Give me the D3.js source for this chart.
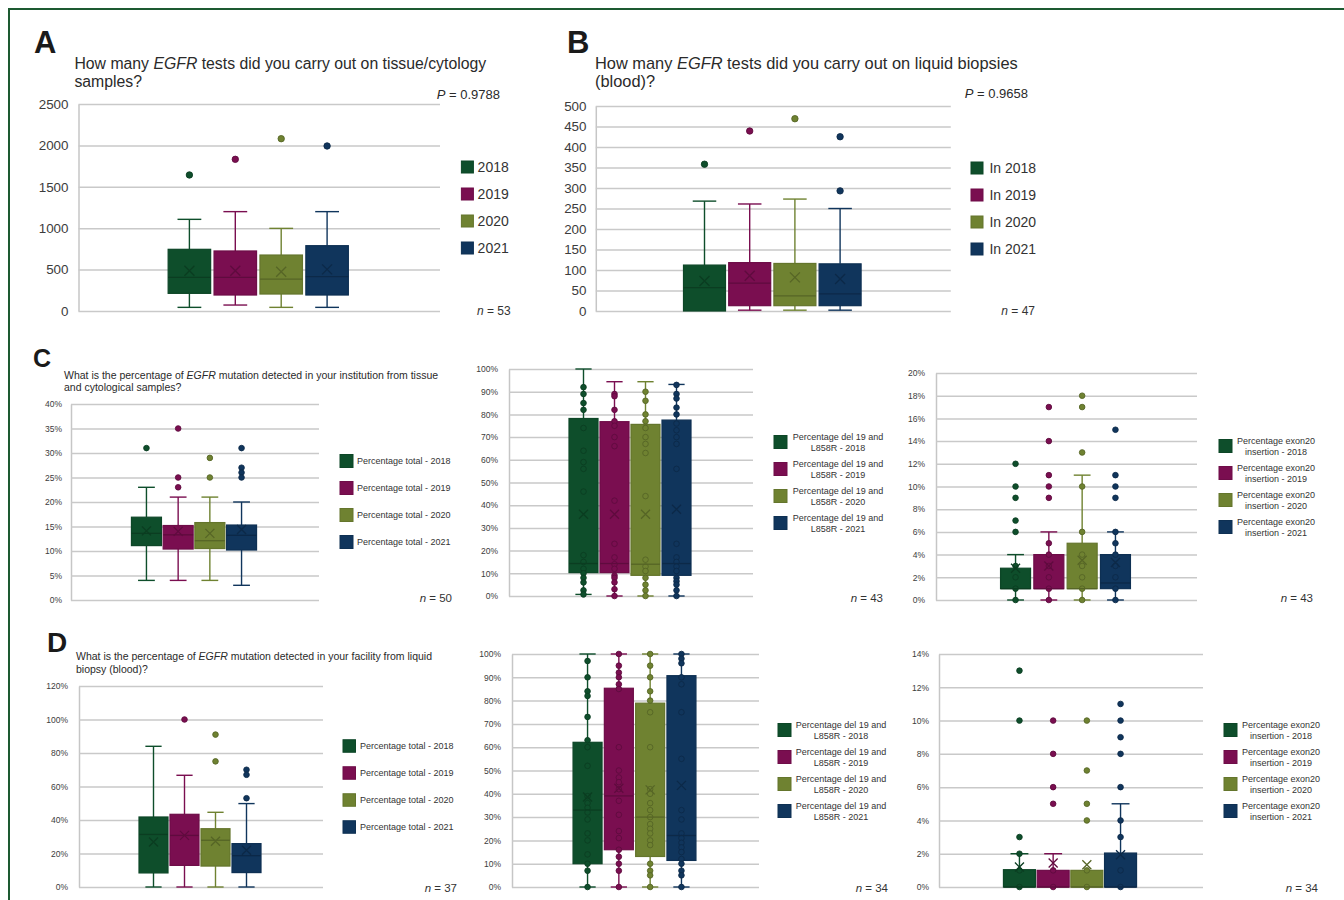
<!DOCTYPE html>
<html>
<head>
<meta charset="utf-8">
<script src="https://cdn.jsdelivr.net/npm/d3@7"></script>
<style>
  body { margin: 0; background: #fff; }
  text { font-family: "Liberation Sans", Arial, sans-serif; }
</style>
</head>
<body>
<div id="chart"></div>
<script>
const years = ["2018", "2019", "2020", "2021"];
const seriesColors = ["#0e4e2b", "#7a0e50", "#6f8231", "#10355c"];

// A - tissue/cytology tests
const aTicks = [0, 500, 1000, 1500, 2000, 2500];
const aLow = [44, 72, 44, 44];
const aQ1 = [213, 193, 205, 193];
const aMedian = [407, 407, 386, 415];
const aQ3 = [745, 725, 676, 789];
const aHigh = [1107, 1200, 998, 1200];
const aMean = [487, 487, 475, 503];
const aPoints = [[1643], [1832], [2081], [1993]];

// B - liquid biopsy tests
const bTicks = [0, 50, 100, 150, 200, 250, 300, 350, 400, 450, 500];
const bLow = [0, 2, 2, 2];
const bQ1 = [0, 13, 13, 13];
const bMedian = [57, 68, 37, 42];
const bQ3 = [112, 118, 116, 115];
const bHigh = [268, 261, 273, 250];
const bMean = [73, 86, 82, 78];
const bPoints = [[358], [439], [469], [425, 293]];

// C - tissue, total %
const c1Ticks = [0, 5, 10, 15, 20, 25, 30, 35, 40];
const c1Low = [4, 4, 4, 3];
const c1Q1 = [11.1, 10.4, 10.5, 10.2];
const c1Median = [13.6, 13.3, 12.1, 13.2];
const c1Q3 = [16.9, 15.2, 15.8, 15.3];
const c1High = [23, 21, 21, 20];
const c1Mean = [14.1, 14.0, 13.6, 14.4];
const c1Points = [[31], [35, 25, 23], [29, 25], [31, 27, 26, 25]];

// C - tissue, del 19 and L858R %
const c2Ticks = [0, 10, 20, 30, 40, 50, 60, 70, 80, 90, 100];
const c2Low = [0.7, 0, 0, 0];
const c2Q1 = [10.3, 10.3, 9.1, 9.1];
const c2Median = [14.3, 14.3, 14, 14.3];
const c2Q3 = [78.2, 76.8, 75.6, 77.5];
const c2High = [100, 94.4, 94.4, 93.2];
const c2Mean = [36, 36, 36, 38.2];
const c2Points = [
  [92, 89, 85, 82, 74, 64, 59, 56, 46, 18, 15, 12, 10, 8, 6, 2.5, 0.7],
  [89, 88, 82, 77, 75, 70, 66, 42, 23, 17, 14, 12, 9, 8, 6, 3, 0],
  [90, 86, 80, 77, 74, 70, 67, 63, 44, 16, 13, 11, 8, 5, 2.5, 0],
  [93, 89, 87, 83, 80, 76, 73, 70, 67, 56, 23, 17, 15, 13, 11, 8, 6.5, 5, 2.5, 0]
];

// C - tissue, exon20 insertion %
const c3Ticks = [0, 2, 4, 6, 8, 10, 12, 14, 16, 18, 20];
const c3Low = [0, 0, 0, 0];
const c3Q1 = [1, 1, 1, 1];
const c3Median = [1, 1, 1, 1.5];
const c3Q3 = [2.8, 4, 5, 4];
const c3High = [4, 6, 11, 6];
const c3Mean = [2.8, 3.0, 3.5, 3.3];
const c3Points = [
  [12, 10, 9, 7, 6, 3, 2, 1, 0],
  [17, 14, 11, 10, 9, 5, 4, 3, 2, 1, 0],
  [18, 17, 13, 10, 6, 4, 3, 2, 1, 0],
  [15, 11, 10, 9, 6, 5, 4, 3, 2, 1, 0]
];

// D - liquid biopsy, total %
const d1Ticks = [0, 20, 40, 60, 80, 100, 120];
const d1Low = [0, 0, 0, 0];
const d1Q1 = [8.4, 12.9, 12.5, 8.6];
const d1Median = [31.4, 30.8, 27.9, 18.7];
const d1Q3 = [41.8, 43.4, 34.8, 25.9];
const d1High = [84, 66.7, 44.6, 49.8];
const d1Mean = [26.9, 30.8, 27.3, 21.9];
const d1Points = [[], [100], [91, 75], [70, 67, 53]];

// D - liquid biopsy, del 19 and L858R %
const d2Ticks = [0, 10, 20, 30, 40, 50, 60, 70, 80, 90, 100];
const d2Low = [0, 0, 0, 0];
const d2Q1 = [10, 16, 13.1, 11.4];
const d2Median = [33, 39.1, 30, 22.1];
const d2Q3 = [62.1, 85.3, 78.9, 90.7];
const d2High = [100, 100, 100, 100];
const d2Mean = [38.6, 42.4, 41.7, 43.6];
const d2Points = [
  [97, 90, 84, 82, 73, 63, 60, 52, 39, 36, 34, 32, 29, 23, 20, 14, 10, 7, 0],
  [100, 95, 92, 90, 87, 85, 60, 50, 47, 45, 42, 37, 31, 24, 21, 16, 13, 10, 7, 0],
  [100, 95, 90, 84, 80, 75, 60, 42, 40, 36, 33, 30, 27, 25, 23, 20, 18, 10, 7, 5, 0],
  [100, 98, 96, 90, 87, 75, 55, 33, 29, 23, 21, 19, 17, 15, 12, 10, 7, 5, 0]
];

// D - liquid biopsy, exon20 insertion %
const d3Ticks = [0, 2, 4, 6, 8, 10, 12, 14];
const d3Low = [0, 0, 0, 0];
const d3Q1 = [0, 0, 0, 0];
const d3Median = [0, 0, 0, 0];
const d3Q3 = [1.04, 1, 1, 2.04];
const d3High = [2, 2, 1, 5];
const d3Mean = [1.2, 1.44, 1.34, 1.94];
const d3Points = [
  [13, 10, 3, 2, 1, 0],
  [10, 8, 6, 5, 1, 0],
  [10, 7, 5, 4, 1, 0],
  [11, 10, 9, 8, 6, 4, 3, 1, 0]
];

// legend labels
const aLegend = ["2018", "2019", "2020", "2021"];
const bLegend = ["In 2018", "In 2019", "In 2020", "In 2021"];
const totalLegend = ["Percentage total - 2018", "Percentage total - 2019", "Percentage total - 2020", "Percentage total - 2021"];
const delLegend = [["Percentage del 19 and", "L858R - 2018"], ["Percentage del 19 and", "L858R - 2019"],
                   ["Percentage del 19 and", "L858R - 2020"], ["Percentage del 19 and", "L858R - 2021"]];
const exonLegend = [["Percentage exon20", "insertion - 2018"], ["Percentage exon20", "insertion - 2019"],
                    ["Percentage exon20", "insertion - 2020"], ["Percentage exon20", "insertion - 2021"]];

const width = 1344, height = 900;
const svg = d3.select("#chart").append("svg")
  .attr("width", width)
  .attr("height", height);

// green frame
svg.append("path")
  .attr("d", `M9,${height} V9 H${width}`)
  .attr("fill", "none")
  .attr("stroke", "#1d5a31")
  .attr("stroke-width", 2);

function stats(low, q1, med, q3, high, mean, pts) {
  return years.map((y, i) => ({ year: y, i, low: low[i], q1: q1[i], med: med[i], q3: q3[i], high: high[i], mean: mean[i], pts: pts[i] }));
}

const pctFmt = d => d + "%";

const panels = [
  { data: stats(aLow, aQ1, aMedian, aQ3, aHigh, aMean, aPoints), ticks: aTicks, fmt: d3.format("d"),
    left: 78.5, right: 440, top: 104, bottom: 311, step: 45.9, boxW: 42.5, tickFont: 13.4, tickPad: 10, r: 3.2, xs: 5,
    legend: aLegend, lgX: 461.4, lgSize: 12, lgTextX: 477.6, lgFont: 14, lgRows: [167, 194, 221, 248],
    n: "53", nX: 510.7, nY: 315, nFont: 12 },
  { data: stats(bLow, bQ1, bMedian, bQ3, bHigh, bMean, bPoints), ticks: bTicks, fmt: d3.format("d"),
    left: 595.8, right: 950.8, top: 106, bottom: 311, step: 45.2, boxW: 42, tickFont: 13.4, tickPad: 9.3, r: 3.2, xs: 5,
    legend: bLegend, lgX: 971, lgSize: 12, lgTextX: 989.4, lgFont: 14, lgRows: [168, 195, 222, 249],
    n: "47", nX: 1035, nY: 315, nFont: 12 },
  { data: stats(c1Low, c1Q1, c1Median, c1Q3, c1High, c1Mean, c1Points), ticks: c1Ticks, fmt: pctFmt,
    left: 71, right: 319, top: 404, bottom: 600, step: 31.7, boxW: 30, tickFont: 8.5, tickPad: 9, r: 2.8, xs: 4.5,
    legend: totalLegend, lgX: 340, lgSize: 13, lgTextX: 357, lgFont: 9, lgRows: [461, 488, 515, 542],
    n: "50", nX: 452, nY: 602, nFont: 11.5 },
  { data: stats(c2Low, c2Q1, c2Median, c2Q3, c2High, c2Mean, c2Points), ticks: c2Ticks, fmt: pctFmt,
    left: 509, right: 753, top: 369, bottom: 596, step: 31, boxW: 29, tickFont: 8.5, tickPad: 11, r: 2.8, xs: 4.5,
    legend: delLegend, lgX: 774, lgSize: 13, lgTextX: 838, lgFont: 9, lgRows: [442, 469, 496, 523],
    n: "43", nX: 883, nY: 602, nFont: 11.5 },
  { data: stats(c3Low, c3Q1, c3Median, c3Q3, c3High, c3Mean, c3Points), ticks: c3Ticks, fmt: pctFmt,
    left: 936, right: 1197, top: 373, bottom: 600, step: 33.3, boxW: 30, tickFont: 8.5, tickPad: 11, r: 2.8, xs: 4.5,
    legend: exonLegend, lgX: 1219, lgSize: 13, lgTextX: 1276, lgFont: 9, lgRows: [446, 473, 500, 527],
    n: "43", nX: 1313, nY: 602, nFont: 11.5 },
  { data: stats(d1Low, d1Q1, d1Median, d1Q3, d1High, d1Mean, d1Points), ticks: d1Ticks, fmt: pctFmt,
    left: 79, right: 323, top: 686, bottom: 887, step: 31, boxW: 29, tickFont: 8.5, tickPad: 11, r: 2.8, xs: 4.5,
    legend: totalLegend, lgX: 343, lgSize: 12.5, lgTextX: 360, lgFont: 9, lgRows: [746, 773, 800, 827],
    n: "37", nX: 457, nY: 892, nFont: 11.5 },
  { data: stats(d2Low, d2Q1, d2Median, d2Q3, d2High, d2Mean, d2Points), ticks: d2Ticks, fmt: pctFmt,
    left: 512, right: 759, top: 654, bottom: 887, step: 31.3, boxW: 29, tickFont: 8.5, tickPad: 11, r: 2.8, xs: 4.5,
    legend: delLegend, lgX: 778, lgSize: 13, lgTextX: 841, lgFont: 9, lgRows: [730, 757, 784, 811],
    n: "34", nX: 888, nY: 892, nFont: 11.5 },
  { data: stats(d3Low, d3Q1, d3Median, d3Q3, d3High, d3Mean, d3Points), ticks: d3Ticks, fmt: pctFmt,
    left: 939, right: 1203, top: 654, bottom: 887, step: 33.7, boxW: 32, tickFont: 8.5, tickPad: 10, r: 2.8, xs: 4.5,
    legend: exonLegend, lgX: 1224, lgSize: 13, lgTextX: 1281, lgFont: 9, lgRows: [730, 757, 784, 811],
    n: "34", nX: 1318, nY: 892, nFont: 11.5 }
];

function drawPanel(p) {
  const g = svg.append("g");
  const y = d3.scaleLinear().domain([0, d3.max(p.ticks)]).range([p.bottom, p.top]);
  const cx = (p.left + p.right) / 2 - 1;
  const pad = 1 - p.boxW / p.step;
  const x = d3.scaleBand().domain(years)
    .range([cx - 2 * p.step, cx + 2 * p.step])
    .paddingInner(pad).paddingOuter(pad / 2);

  // axis with gridlines
  const axis = g.append("g")
    .attr("transform", `translate(${p.left},0)`)
    .call(d3.axisLeft(y).tickValues(p.ticks).tickFormat(p.fmt)
      .tickSize(-(p.right - p.left)).tickSizeOuter(0).tickPadding(p.tickPad));
  axis.select(".domain").attr("stroke", "#c6c6c6").attr("stroke-width", 1.5);
  axis.selectAll(".tick line").attr("stroke", "#c9c9c9").attr("stroke-width", 1.5);
  axis.selectAll(".tick text")
    .attr("fill", "#3c3c3c")
    .style("font-size", p.tickFont + "px")
    .style("font-family", "'Liberation Sans', Arial, sans-serif");

  const boxes = g.selectAll(".box").data(p.data).enter().append("g").attr("class", "box");
  const mid = d => x(d.year) + x.bandwidth() / 2;
  const capW = x.bandwidth() * 0.28;
  const col = d => seriesColors[d.i];
  const dark = d => d3.color(seriesColors[d.i]).darker(0.7);

  // whiskers
  boxes.filter(d => d.high > d.q3).append("line")
    .attr("x1", mid).attr("x2", mid)
    .attr("y1", d => y(d.q3)).attr("y2", d => y(d.high))
    .attr("stroke", col).attr("stroke-width", 1.4);
  boxes.filter(d => d.high > d.q3).append("line")
    .attr("x1", d => mid(d) - capW).attr("x2", d => mid(d) + capW)
    .attr("y1", d => y(d.high)).attr("y2", d => y(d.high))
    .attr("stroke", col).attr("stroke-width", 1.4);
  boxes.filter(d => d.low < d.q1).append("line")
    .attr("x1", mid).attr("x2", mid)
    .attr("y1", d => y(d.q1)).attr("y2", d => y(d.low))
    .attr("stroke", col).attr("stroke-width", 1.4);
  boxes.filter(d => d.low < d.q1).append("line")
    .attr("x1", d => mid(d) - capW).attr("x2", d => mid(d) + capW)
    .attr("y1", d => y(d.low)).attr("y2", d => y(d.low))
    .attr("stroke", col).attr("stroke-width", 1.4);

  // box
  boxes.append("rect")
    .attr("x", d => x(d.year))
    .attr("width", x.bandwidth())
    .attr("y", d => y(d.q3))
    .attr("height", d => y(d.q1) - y(d.q3))
    .attr("fill", col)
    .attr("stroke", d => d3.color(seriesColors[d.i]).darker(0.3))
    .attr("stroke-width", 1.2);

  // points
  boxes.selectAll("circle").data(d => d.pts.map(v => ({ v, i: d.i, year: d.year }))).enter()
    .append("circle")
    .attr("cx", mid)
    .attr("cy", d => y(d.v))
    .attr("r", p.r)
    .attr("fill", col)
    .attr("stroke", dark)
    .attr("stroke-width", 0.9);

  // median
  boxes.append("line")
    .attr("x1", d => x(d.year)).attr("x2", d => x(d.year) + x.bandwidth())
    .attr("y1", d => y(d.med)).attr("y2", d => y(d.med))
    .attr("stroke", dark).attr("stroke-width", 1.3);

  // mean marker
  boxes.append("path")
    .attr("d", d => {
      const cxm = mid(d), cym = y(d.mean), s = p.xs;
      return `M${cxm - s},${cym - s}L${cxm + s},${cym + s}M${cxm - s},${cym + s}L${cxm + s},${cym - s}`;
    })
    .attr("stroke", dark).attr("stroke-width", 1.3).attr("fill", "none");

  // legend
  const lg = g.selectAll(".lg").data(p.legend).enter().append("g")
    .attr("transform", (d, i) => `translate(0,${p.lgRows[i]})`);
  lg.append("rect")
    .attr("x", p.lgX).attr("y", -p.lgSize / 2)
    .attr("width", p.lgSize).attr("height", p.lgSize)
    .attr("fill", (d, i) => seriesColors[i])
    .attr("stroke", (d, i) => d3.color(seriesColors[i]).darker(0.3))
    .attr("stroke-width", 1);
  lg.each(function(d) {
    const sel = d3.select(this);
    if (Array.isArray(d)) {
      sel.append("text").attr("x", p.lgTextX).attr("y", -2)
        .attr("text-anchor", "middle").style("font-size", p.lgFont + "px").attr("fill", "#333").text(d[0]);
      sel.append("text").attr("x", p.lgTextX).attr("y", 8.5)
        .attr("text-anchor", "middle").style("font-size", p.lgFont + "px").attr("fill", "#333").text(d[1]);
    } else {
      sel.append("text").attr("x", p.lgTextX).attr("y", p.lgFont * 0.36)
        .style("font-size", p.lgFont + "px").attr("fill", "#333").text(d);
    }
  });

  // n label
  const nt = g.append("text")
    .attr("x", p.nX).attr("y", p.nY)
    .attr("text-anchor", "end")
    .style("font-size", p.nFont + "px")
    .attr("fill", "#333");
  nt.append("tspan").style("font-style", "italic").text("n");
  nt.append("tspan").text(" = " + p.n);
}

panels.forEach(drawPanel);

// letters, titles, P values
function letter(t, x, y, size) {
  svg.append("text").attr("x", x).attr("y", y)
    .style("font-size", size + "px").style("font-weight", "bold")
    .attr("fill", "#1a1a1a").text(t);
}
function title(lines, x, y0, lh, size) {
  lines.forEach((segs, li) => {
    const t = svg.append("text").attr("x", x).attr("y", y0 + li * lh)
      .style("font-size", size + "px").attr("fill", "#2a2a2a");
    segs.forEach(s => {
      t.append("tspan").style("font-style", s[1] ? "italic" : "normal").text(s[0]);
    });
  });
}
function pValue(v, x, y) {
  const t = svg.append("text").attr("x", x).attr("y", y)
    .attr("text-anchor", "end").style("font-size", "13px").attr("fill", "#2a2a2a");
  t.append("tspan").style("font-style", "italic").text("P");
  t.append("tspan").text(" = " + v);
}

letter("A", 34, 53, 31);
title([[["How many ", false], ["EGFR", true], [" tests did you carry out on tissue/cytology", false]],
       [["samples?", false]]], 74.4, 69, 18, 15.8);
pValue("0.9788", 500, 99);

letter("B", 567, 53, 31);
title([[["How many ", false], ["EGFR", true], [" tests did you carry out on liquid biopsies", false]],
       [["(blood)?", false]]], 595, 69, 18, 16.4);
pValue("0.9658", 1028, 98);

letter("C", 33, 367, 25);
title([[["What is the percentage of ", false], ["EGFR", true], [" mutation detected in your institution from tissue", false]],
       [["and cytological samples?", false]]], 64, 379, 12, 10.5);

letter("D", 47, 652, 28);
title([[["What is the percentage of ", false], ["EGFR", true], [" mutation detected in your facility from liquid", false]],
       [["biopsy (blood)?", false]]], 76, 660, 13, 10.5);
</script>
</body>
</html>
